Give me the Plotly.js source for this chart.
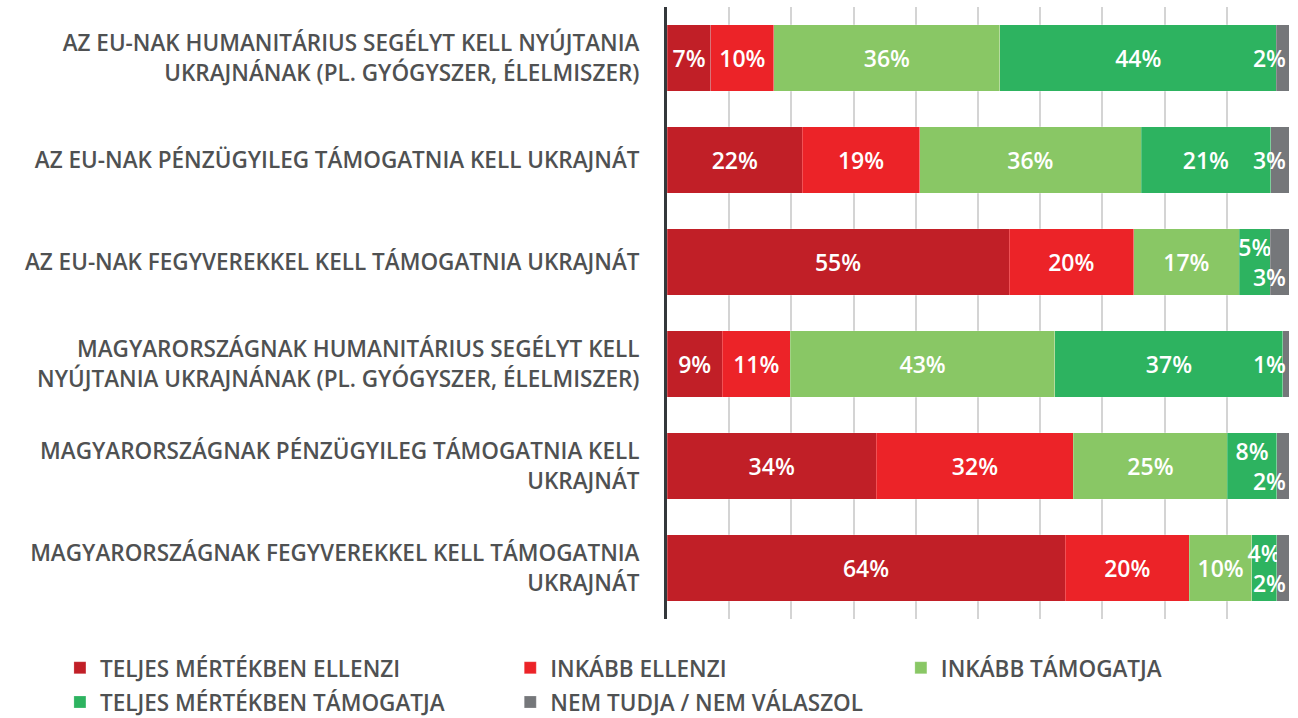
<!DOCTYPE html>
<html>
<head>
<meta charset="utf-8">
<script src="https://cdn.plot.ly/plotly-3.0.1.min.js"></script>
<style>html,body{margin:0;padding:0;background:#fff;}#chart{width:1298px;height:718px;}</style>
</head>
<body>
<div id="chart"></div>
<script>
const categories = [
  "AZ EU-NAK HUMANITÁRIUS SEGÉLYT KELL NYÚJTANIA<br>UKRAJNÁNAK (PL. GYÓGYSZER, ÉLELMISZER)",
  "AZ EU-NAK PÉNZÜGYILEG TÁMOGATNIA KELL UKRAJNÁT",
  "AZ EU-NAK FEGYVEREKKEL KELL TÁMOGATNIA UKRAJNÁT",
  "MAGYARORSZÁGNAK HUMANITÁRIUS SEGÉLYT KELL<br>NYÚJTANIA UKRAJNÁNAK (PL. GYÓGYSZER, ÉLELMISZER)",
  "MAGYARORSZÁGNAK PÉNZÜGYILEG TÁMOGATNIA KELL<br>UKRAJNÁT",
  "MAGYARORSZÁGNAK FEGYVEREKKEL KELL TÁMOGATNIA<br>UKRAJNÁT"
];
const seriesNames = [
  "TELJES MÉRTÉKBEN ELLENZI",
  "INKÁBB ELLENZI",
  "INKÁBB TÁMOGATJA",
  "TELJES MÉRTÉKBEN TÁMOGATJA",
  "NEM TUDJA / NEM VÁLASZOL"
];
const teljesEllenzi   = [7, 22, 55, 9, 34, 64];
const inkabbEllenzi   = [10, 19, 20, 11, 32, 20];
const inkabbTamogatja = [36, 36, 17, 43, 25, 10];
const teljesTamogatja = [44, 21, 5, 37, 8, 4];
const nemTudja        = [2, 3, 3, 1, 2, 2];

const seriesValues = [teljesEllenzi, inkabbEllenzi, inkabbTamogatja, teljesTamogatja, nemTudja];
const colors = ["#C11F27", "#EC2328", "#89C765", "#2DB360", "#75777A"];
const legendIds = ["legend", "legend2", "legend3", "legend", "legend2"];

const FONT = "'Open Sans', Roboto, 'DejaVu Sans', sans-serif";
const NB = "\u00a0";

const traces = seriesValues.map((vals, i) => {
  const text = vals.map((v, r) => {
    const crowded = teljesTamogatja[r] < 10;
    if (crowded && i === 3) return v + "%<br>" + NB;
    if (crowded && i === 4) return NB + "<br>" + v + "%";
    return v + "%";
  });
  return {
    type: "bar",
    orientation: "h",
    name: seriesNames[i],
    y: categories,
    x: vals,
    text: text,
    texttemplate: "%{text}",
    textposition: "inside",
    insidetextanchor: i === 4 ? "end" : "middle",
    constraintext: "none",
    textangle: 0,
    cliponaxis: false,
    insidetextfont: {color: "#ffffff", size: 23, family: FONT, weight: 600},
    marker: {color: colors[i], line: {color: "rgba(255,255,255,0.35)", width: 0.6}},
    legend: legendIds[i],
    legendgroup: "g" + i,
    hoverinfo: "skip"
  };
});

const legendFont = {family: FONT, size: 22.5, color: "#4F5152", weight: 600};
const legendBase = {
  orientation: "v",
  yanchor: "top",
  xanchor: "left",
  y: -0.0451,
  bgcolor: "rgba(0,0,0,0)",
  font: legendFont,
  traceorder: "grouped",
  tracegroupgap: 2,
  itemclick: false,
  itemdoubleclick: false
};

const layout = {
  width: 1298,
  height: 718,
  margin: {l: 667, r: 9, t: 7, b: 99, autoexpand: false},
  paper_bgcolor: "#ffffff",
  plot_bgcolor: "#ffffff",
  barmode: "stack",
  barnorm: "percent",
  bargap: 0.35,
  showlegend: true,
  legend: Object.assign({}, legendBase, {x: -0.976}),
  legend2: Object.assign({}, legendBase, {x: -0.252}),
  legend3: Object.assign({}, legendBase, {x: 0.376}),
  xaxis: {
    range: [0, 100],
    dtick: 10,
    showgrid: true,
    gridcolor: "#D4D4D4",
    gridwidth: 2,
    zeroline: false,
    showticklabels: false,
    showline: false,
    fixedrange: true
  },
  yaxis: {
    type: "category",
    categoryorder: "array",
    categoryarray: categories,
    autorange: "reversed",
    showline: true,
    linecolor: "#34383B",
    linewidth: 3,
    showgrid: false,
    ticks: "",
    ticklabelstandoff: 20,
    tickfont: {family: FONT, size: 22.5, color: "#4F5152", weight: 600},
    fixedrange: true
  },
  font: {family: FONT}
};

Plotly.newPlot("chart", traces, layout, {displayModeBar: false, staticPlot: true});
</script>
</body>
</html>
